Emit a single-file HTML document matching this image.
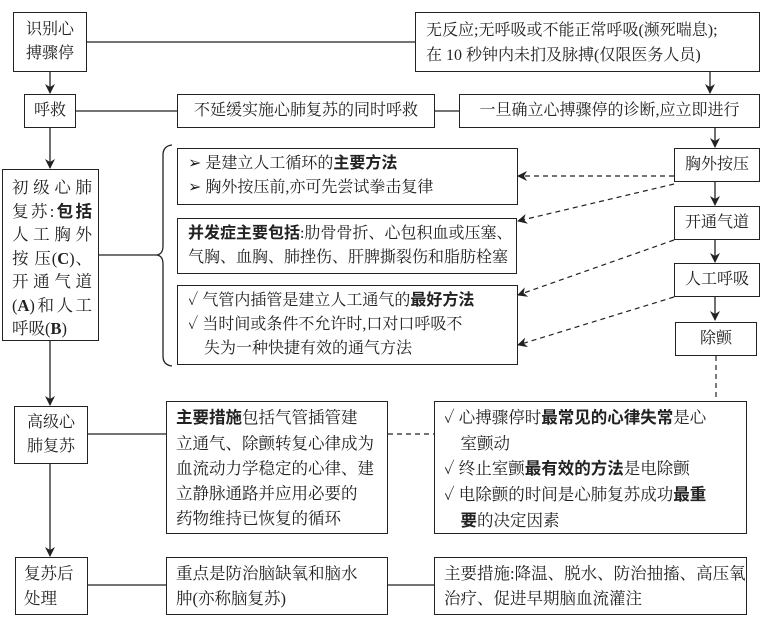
<!DOCTYPE html>
<html><head><meta charset="utf-8"><style>
body{margin:0;width:766px;height:639px;background:#fff;position:relative;overflow:hidden;font-family:"Liberation Serif","Noto Serif CJK SC",serif;color:#222;}
.b{position:absolute;border:1.5px solid #222;box-sizing:border-box;font-size:16px;line-height:24px;}
.c{display:flex;align-items:center;justify-content:center;text-align:center;}
b{font-family:"Liberation Sans","Noto Sans CJK SC",sans-serif;font-weight:bold;}
strong{font-weight:bold;font-family:"Liberation Serif",serif;}
.j{width:80px;text-align:justify;text-align-last:justify;white-space:nowrap;height:23.5px;}
svg{position:absolute;left:0;top:0;}
</style></head><body>
<svg width="766" height="639">
<defs><marker id="a" markerWidth="10" markerHeight="10" refX="9" refY="5" orient="auto" markerUnits="userSpaceOnUse"><path d="M0,0 L10,5 L0,10 L3,5 z" fill="#222"/></marker></defs>
<g stroke="#222" stroke-width="1.3" fill="none">
<line x1="87" y1="42" x2="415" y2="42"/>
<line x1="76" y1="111" x2="177" y2="111"/>
<line x1="435" y1="111" x2="459" y2="111"/>
<line x1="50" y1="72" x2="50" y2="93" marker-end="url(#a)"/>
<line x1="50" y1="128" x2="50" y2="168" marker-end="url(#a)"/>
<line x1="50" y1="341" x2="50" y2="405" marker-end="url(#a)"/>
<line x1="50" y1="464" x2="50" y2="556" marker-end="url(#a)"/>
<line x1="710" y1="72" x2="710" y2="93" marker-end="url(#a)"/>
<line x1="715" y1="128" x2="715" y2="147" marker-end="url(#a)"/>
<line x1="715" y1="182" x2="715" y2="205" marker-end="url(#a)"/>
<line x1="715" y1="240" x2="715" y2="262" marker-end="url(#a)"/>
<line x1="715" y1="297" x2="715" y2="320" marker-end="url(#a)"/>
<line x1="99" y1="255" x2="157" y2="255"/>
<path d="M172,145 Q163,146 163,155 L163,246 Q163,254 157,255 Q163,256 163,264 L163,356 Q163,365 172,366"/>
<line x1="88" y1="434" x2="166" y2="434"/>
<line x1="88" y1="585" x2="166" y2="585"/>
<line x1="388" y1="585" x2="434" y2="585"/>
</g>
<g stroke="#222" stroke-width="1.2" fill="none" stroke-dasharray="5,4">
<line x1="674" y1="176" x2="518" y2="176" marker-end="url(#a)"/>
<line x1="674" y1="184" x2="518" y2="221" marker-end="url(#a)"/>
<line x1="674" y1="240" x2="518" y2="295" marker-end="url(#a)"/>
<line x1="674" y1="297" x2="518" y2="345" marker-end="url(#a)"/>
<line x1="716" y1="356" x2="716" y2="401"/>
<line x1="388" y1="434" x2="434" y2="434"/>
</g>
</svg>
<div class="b c" style="left:13px;top:12px;width:74px;height:60px;">识别心<br>搏骤停</div>
<div class="b" style="left:415px;top:12px;width:345px;height:60px;padding:5px 0 0 10px;line-height:25px;">无反应;无呼吸或不能正常呼吸(濒死喘息);<br>在 10 秒钟内未扪及脉搏(仅限医务人员)</div>
<div class="b c" style="left:24px;top:94px;width:52px;height:34px;">呼救</div>
<div class="b c" style="left:177px;top:94px;width:258px;height:34px;">不延缓实施心肺复苏的同时呼救</div>
<div class="b c" style="left:459px;top:94px;width:301px;height:34px;">一旦确立心搏骤停的诊断,应立即进行</div>
<div class="b c" style="left:674px;top:148px;width:86px;height:34px;">胸外按压</div>
<div class="b c" style="left:674px;top:206px;width:86px;height:34px;">开通气道</div>
<div class="b c" style="left:674px;top:263px;width:86px;height:34px;">人工呼吸</div>
<div class="b c" style="left:675px;top:322px;width:82px;height:34px;">除颤</div>
<div class="b" style="left:2px;top:169px;width:97px;height:172px;padding:6px 0 0 9px;line-height:23.5px;font-size:16.5px;">
<div class="j">初 级 心 肺</div>
<div class="j">复苏:<b>包括</b></div>
<div class="j">人 工 胸 外</div>
<div class="j">按 压(<strong>C</strong>)、</div>
<div class="j">开 通 气 道</div>
<div class="j">(<strong>A</strong>)和人工</div>
<div style="white-space:nowrap;">呼吸(<strong>B</strong>)</div>
</div>
<div class="b" style="left:177px;top:148px;width:341px;height:57px;padding:3px 0 0 10px;line-height:24px;">➢ 是建立人工循环的<b>主要方法</b><br>➢ 胸外按压前,亦可先尝试拳击复律</div>
<div class="b" style="left:177px;top:218px;width:340px;height:56px;padding:3px 0 0 10px;line-height:24px;"><b>并发症主要包括</b>:肋骨骨折、心包积血或压塞、<br>气胸、血胸、肺挫伤、肝脾撕裂伤和脂肪栓塞</div>
<div class="b" style="left:177px;top:285px;width:341px;height:80px;padding:3px 0 0 10px;line-height:24px;">✓ 气管内插管是建立人工通气的<b>最好方法</b><br>✓ 当时间或条件不允许时,口对口呼吸不<br>&nbsp;&nbsp;&nbsp;&nbsp;失为一种快捷有效的通气方法</div>
<div class="b c" style="left:14px;top:406px;width:74px;height:58px;">高级心<br>肺复苏</div>
<div class="b" style="left:166px;top:401px;width:222px;height:133px;padding:3px 0 0 9px;line-height:25px;font-size:16.5px;"><b>主要措施</b>包括气管插管建<br>立通气、除颤转复心律成为<br>血流动力学稳定的心律、建<br>立静脉通路并应用必要的<br>药物维持已恢复的循环</div>
<div class="b" style="left:434px;top:401px;width:313px;height:133px;padding:3px 0 0 9px;line-height:25px;font-size:16.5px;">✓ 心搏骤停时<b>最常见的心律失常</b>是心<br>&nbsp;&nbsp;&nbsp;&nbsp;室颤动<br>✓ 终止室颤<b>最有效的方法</b>是电除颤<br>✓ 电除颤的时间是心肺复苏成功<b>最重</b><br>&nbsp;&nbsp;&nbsp;&nbsp;<b>要</b>的决定因素</div>
<div class="b" style="left:15px;top:557px;width:73px;height:58px;padding:3px 0 0 8px;line-height:25px;font-size:16.5px;">复苏后<br>处理</div>
<div class="b" style="left:166px;top:557px;width:222px;height:58px;padding:3px 0 0 9px;line-height:25px;font-size:16.5px;">重点是防治脑缺氧和脑水<br>肿(亦称脑复苏)</div>
<div class="b" style="left:434px;top:557px;width:313px;height:58px;padding:3px 0 0 9px;line-height:25px;font-size:16.5px;">主要措施:降温、脱水、防治抽搐、高压氧<br>治疗、促进早期脑血流灌注</div>
</body></html>
